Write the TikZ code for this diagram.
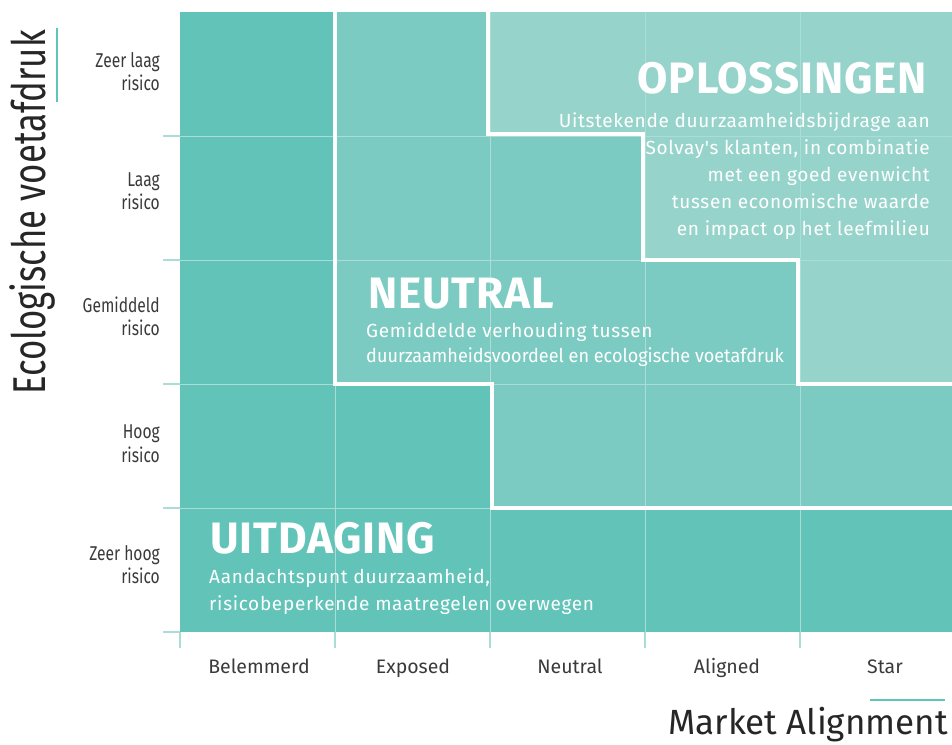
\documentclass[tikz,border=0pt]{standalone}
\usepackage{fontspec}
\setmainfont{Fira Sans}
\newfontfamily\condfont[FakeStretch=0.78]{Fira Sans}
\newfontfamily\axisfont[FakeStretch=0.755]{Fira Sans}
\newfontfamily\zonefont[LetterSpace=3.6]{Fira Sans}
\newfontfamily\zonecondfont[FakeStretch=0.95]{Fira Sans}
\newfontfamily\titlefont[LetterSpace=2]{Fira Sans}
\definecolor{tealdark}{HTML}{62C4B9}
\definecolor{tealmid}{HTML}{7CCBC2}
\definecolor{teallight}{HTML}{96D4CB}
\definecolor{tealgrid}{HTML}{A9DDD6}
\definecolor{labelgray}{HTML}{3A3A3A}

\begin{document}
\begin{tikzpicture}[x=1pt,y=-1pt,
    zonetitle/.style={font=\titlefont\bfseries\fontsize{44}{44}\selectfont, text=white, inner sep=0pt, anchor=base west},
    zonetext/.style={font=\zonefont\fontsize{19}{27}\selectfont, text=white, inner sep=0pt},
    rowlabel/.style={font=\condfont\fontsize{20}{23.5}\selectfont, text=labelgray, inner sep=0pt, anchor=base east},
    collabel/.style={font=\fontsize{19.5}{20}\selectfont, text=labelgray, inner sep=0pt, anchor=base},
    boundary/.style={white, line width=4pt},
    gridline/.style={tealgrid, line width=1pt},
    tick/.style={tealgrid, line width=2pt},
    accent/.style={tealdark, line width=2.5pt}]
    \useasboundingbox (0,0) rectangle (952,744);
    % zones
    \fill[tealdark] (180,12) rectangle (952,632);
    \fill[tealmid] (335,12) -- (335,384) -- (492,384) -- (492,508) -- (952,508) -- (952,12) -- cycle;
    \fill[teallight] (488,12) -- (488,134) -- (643,134) -- (643,260) -- (798,260) -- (798,384) -- (952,384) -- (952,12) -- cycle;
    % grid
    \draw[gridline] (335,12) -- (335,632);
    \draw[gridline] (490,12) -- (490,632);
    \draw[gridline] (645,12) -- (645,632);
    \draw[gridline] (800,12) -- (800,632);
    \draw[gridline] (180,136) -- (952,136);
    \draw[gridline] (180,260) -- (952,260);
    \draw[gridline] (180,384) -- (952,384);
    \draw[gridline] (180,508) -- (952,508);
    % zone boundaries
    \draw[boundary] (335,12) -- (335,384) -- (492,384) -- (492,508) -- (952,508);
    \draw[boundary] (488,12) -- (488,134) -- (643,134) -- (643,260) -- (798,260) -- (798,384) -- (952,384);
    % ticks
    \draw[tick] (163,136) -- (180,136);
    \draw[tick] (163,260) -- (180,260);
    \draw[tick] (163,384) -- (180,384);
    \draw[tick] (163,508) -- (180,508);
    \draw[tick] (163,632) -- (180,632);
    \draw[tick] (180,632) -- (180,648);
    \draw[tick] (335,632) -- (335,648);
    \draw[tick] (490,632) -- (490,648);
    \draw[tick] (645,632) -- (645,648);
    \draw[tick] (800,632) -- (800,648);
    % axis titles
    \draw[accent] (57,28) -- (57,102);
    \draw[accent] (870,700) -- (945,700);
    \node[font=\axisfont\fontsize{46}{46}\selectfont, text=black!85, rotate=90, anchor=base east, inner sep=0pt] (ecoaxis) at (45,30) {Ecologische voetafdruk};
    \node[font=\fontsize{35}{35}\selectfont, text=black!85, anchor=base east, inner sep=0pt] (marketaxis) at (948,734) {Market Alignment};
    % row labels
    \node[rowlabel] (zlaag) at (160,67) {Zeer laag};
    \node[rowlabel] (zlaagr) at (160,90) {risico};
    \node[rowlabel] (laag) at (160,186) {Laag};
    \node[rowlabel] (laagr) at (160,209) {risico};
    \node[rowlabel] (gem) at (160,312) {Gemiddeld};
    \node[rowlabel] (gemr) at (160,335) {risico};
    \node[rowlabel] (hoog) at (160,438) {Hoog};
    \node[rowlabel] (hoogr) at (160,462) {risico};
    \node[rowlabel] (zhoog) at (160,560) {Zeer hoog};
    \node[rowlabel] (zhoogr) at (160,583) {risico};
    % column labels
    \node[collabel] (belem) at (259,673) {Belemmerd};
    \node[collabel] (expos) at (413,673) {Exposed};
    \node[collabel] (neutr) at (570,673) {Neutral};
    \node[collabel] (align) at (727,673) {Aligned};
    \node[collabel] (star) at (885,673) {Star};
    % zone texts
    \node[zonetitle, anchor=base east] (oplos) at (927,93) {OPLOSSINGEN};
    \node[zonetext, anchor=base east] (oplos1) at (930,127) {Uitstekende duurzaamheidsbijdrage aan};
    \node[zonetext, anchor=base east] (oplos2) at (930,154) {Solvay's klanten, in combinatie};
    \node[zonetext, anchor=base east] (oplos3) at (930,181) {met een goed evenwicht};
    \node[zonetext, anchor=base east] (oplos4) at (930,208) {tussen economische waarde};
    \node[zonetext, anchor=base east] (oplos5) at (930,235) {en impact op het leefmilieu};
    \node[zonetitle] (neutral) at (368,308) {NEUTRAL};
    \node[zonetext, anchor=base west] (neutral1) at (366,337) {Gemiddelde verhouding tussen};
    \node[zonetext, anchor=base west, font=\zonecondfont\fontsize{19}{27}\selectfont] (neutral2) at (366,362) {duurzaamheidsvoordeel en ecologische voetafdruk};
    \node[zonetitle] (uitdag) at (210,553) {UITDAGING};
    \node[zonetext, anchor=base west] (uitdag1) at (209,583) {Aandachtspunt duurzaamheid,};
    \node[zonetext, anchor=base west] (uitdag2) at (209,610) {risicobeperkende maatregelen overwegen};
\end{tikzpicture}
\end{document}
